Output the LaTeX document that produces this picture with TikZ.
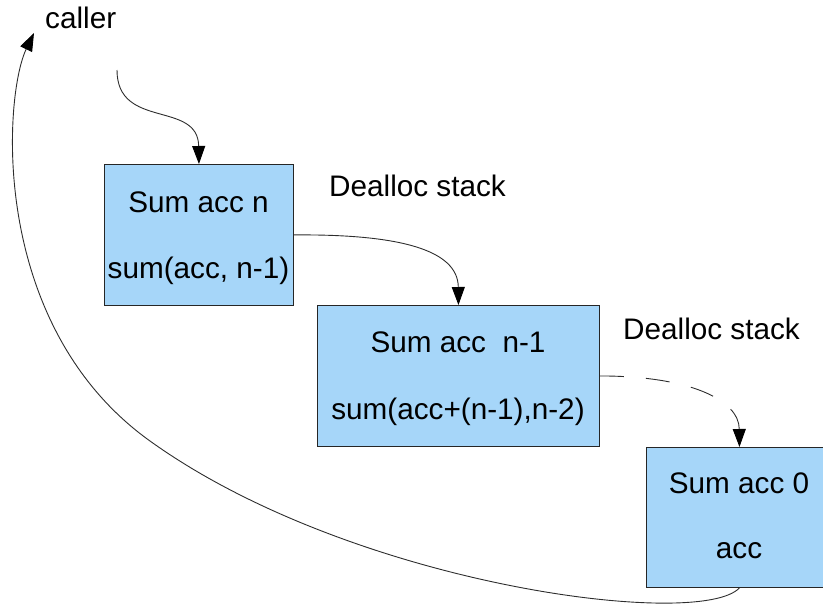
\documentclass[tikz,border=0pt]{standalone}
\usepackage{fontspec}
\setmainfont{Liberation Sans}
\usetikzlibrary{arrows.meta}
\definecolor{boxblue}{RGB}{166,214,249}
\definecolor{linegray}{RGB}{45,45,45}
\begin{document}
\begin{tikzpicture}[x=1pt,y=-1pt,
  box/.style={draw=black!85, line width=0.9pt, fill=boxblue, anchor=north west, inner sep=0pt, minimum height=141pt},
  txt/.style={font=\fontsize{29.7}{32}\selectfont, anchor=base, inner sep=0pt},
  conn/.style={draw=linegray, line width=0.9pt, -{Triangle[length=18pt,width=13pt,color=black]}}]
\useasboundingbox (0,0) rectangle (823,605);
\clip (0,0) rectangle (823,605);
% boxes
\node[box, minimum width=189pt] (b1) at (104,164) {};
\node[box, minimum width=282pt] (b2) at (317,305) {};
\node[box, minimum width=186pt, minimum height=140pt] (b3) at (646,447) {};
% box texts
\node[txt] (t1a) at (198.5,212) {Sum acc n};
\node[txt] (t1b) at (198.5,278) {sum(acc, n-1)};
\node[txt] (t2a) at (458,352) {Sum acc\ \ n-1};
\node[txt] (t2b) at (458,419) {sum(acc+(n-1),n-2)};
\node[txt] (t3a) at (739,493) {Sum acc 0};
\node[txt] (t3b) at (739,558) {acc};
% free labels
\node[txt, anchor=base west] (caller) at (45,28) {caller};
\node[txt, anchor=base west] (d1) at (329,196) {Dealloc stack};
\node[txt, anchor=base west] (d2) at (623,339) {Dealloc stack};
% connector ends
\coordinate (cs) at (117,70);
\coordinate (ret) at (34,33);
\coordinate (mid) at (150,441);
% connectors
\draw[conn] (cs) .. controls (117,130) and (198,100) .. (b1.north);
\draw[conn] (b1.east) .. controls (400,234) and (458,250) .. (b2.north);
\draw[conn, dash pattern=on 24pt off 22pt] (b2.east) .. controls (690,376) and (739,400) .. (b3.north);
\draw[conn] (b3.south) .. controls (700,630) and (352,586) .. (mid) .. controls (-12,325) and (4,95) .. (ret);
\end{tikzpicture}
\end{document}
